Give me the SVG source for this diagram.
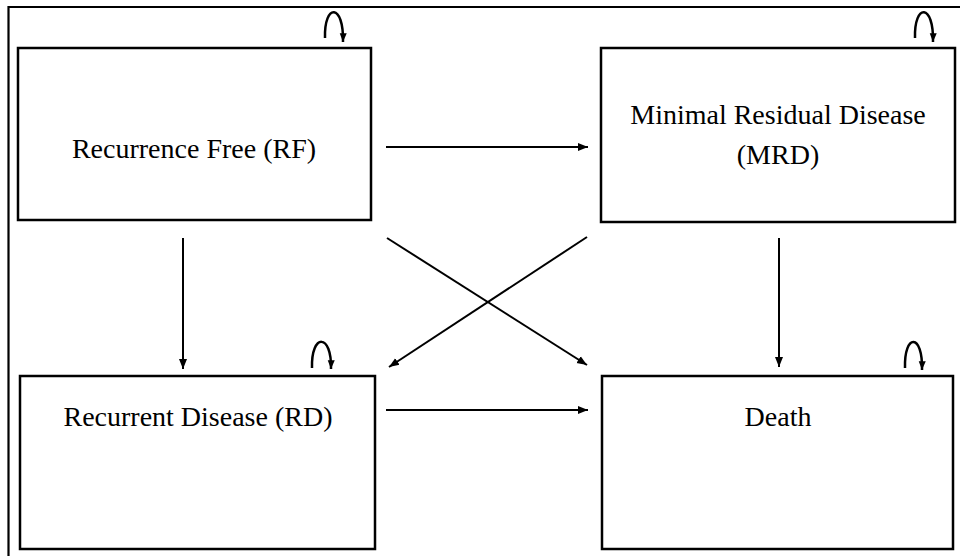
<svg xmlns="http://www.w3.org/2000/svg" width="960" height="556" viewBox="0 0 960 556">
<defs>
<marker id="ah" viewBox="0 0 10 10" refX="10" refY="5" markerWidth="5" markerHeight="5" orient="auto" markerUnits="strokeWidth">
<path d="M0,1 L10,5 L0,9 z" fill="#000"/>
</marker>
<marker id="ahs" viewBox="0 0 10 10" refX="10" refY="5" markerWidth="3.5" markerHeight="3.5" orient="auto" markerUnits="strokeWidth">
<path d="M0,1 L10,5 L0,9 z" fill="#000"/>
</marker>
<style>
.box{fill:#fff;stroke:#000;stroke-width:2.5}
.lbl{font-family:"Liberation Serif","Times New Roman",serif;font-size:28px;fill:#000;text-anchor:middle}
.con{stroke:#000;stroke-width:2;fill:none;marker-end:url(#ah)}
.loop{stroke:#000;stroke-width:2.5;fill:none;marker-end:url(#ahs)}
</style>
</defs>
<rect x="0" y="0" width="960" height="556" fill="#fff"/>
<path d="M8.5,570 V7 H970" fill="none" stroke="#000" stroke-width="2.2"/>
<g id="rf">
<rect class="box" x="18" y="48" width="353" height="172"/>
<text class="lbl" x="194" y="158">Recurrence Free (RF)</text>
<path class="loop" d="M325,38 C324,3 344,3 343,42"/>
</g>
<g id="mrd">
<rect class="box" x="601" y="48" width="354" height="174"/>
<text class="lbl" x="778" y="124">Minimal Residual Disease</text>
<text class="lbl" x="778" y="164">(MRD)</text>
<path class="loop" d="M915,38 C914,3 934,3 933,42"/>
</g>
<g id="rd">
<rect class="box" x="20" y="376" width="355" height="173"/>
<text class="lbl" x="198" y="426">Recurrent Disease (RD)</text>
<path class="loop" d="M312,368 C311,333 332,333 331,369"/>
</g>
<g id="death">
<rect class="box" x="602" y="376" width="351" height="173"/>
<text class="lbl" x="778" y="426">Death</text>
<path class="loop" d="M905,368 C904,333 923,333 922,370"/>
</g>
<g id="connectors">
<line class="con" x1="386" y1="147" x2="588" y2="147"/>
<line class="con" x1="386" y1="410" x2="588" y2="410"/>
<line class="con" x1="183" y1="238" x2="183" y2="369"/>
<line class="con" x1="779" y1="238" x2="779" y2="367"/>
<line class="con" x1="387" y1="238" x2="587" y2="365"/>
<line class="con" x1="587" y1="237" x2="389" y2="367"/>
</g>
</svg>
